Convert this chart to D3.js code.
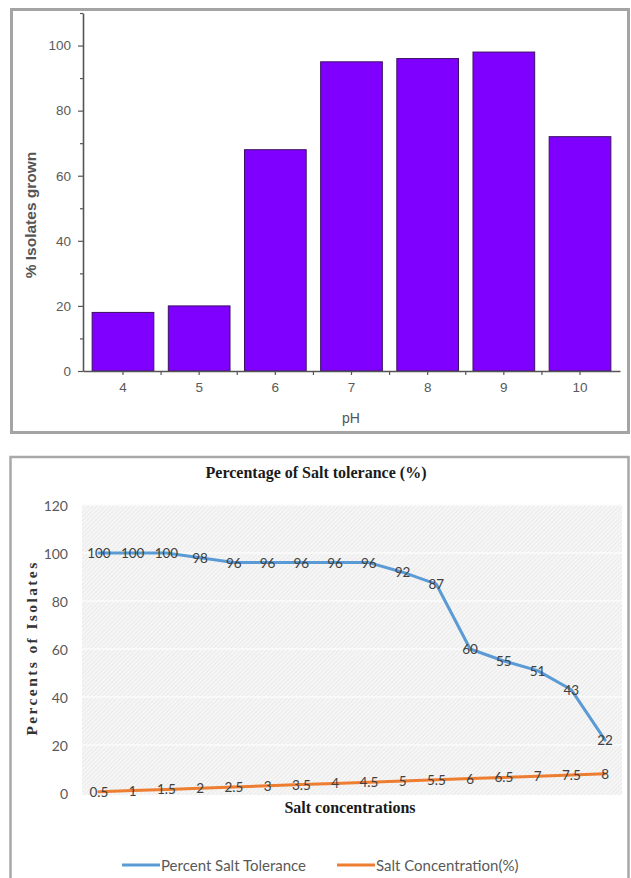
<!DOCTYPE html>
<html>
<head>
<meta charset="utf-8">
<script src="https://cdn.jsdelivr.net/npm/d3@7/dist/d3.min.js"></script>
<style>
  html, body { margin: 0; padding: 0; background: #ffffff; }
  svg { display: block; }
</style>
</head>
<body>
<svg id="chart" width="631" height="878"></svg>
<script>
// ---- pH growth data (bar chart) ----
const phLevels = ["4", "5", "6", "7", "8", "9", "10"];
const isolatesGrown = [18, 20, 68, 95, 96, 98, 72];
const phMajorTicks = [0, 20, 40, 60, 80, 100];
const phMinorTicks = [10, 30, 50, 70, 90, 110];

// ---- salt tolerance data (line chart) ----
const saltLevels = ["0.5", "1", "1.5", "2", "2.5", "3", "3.5", "4", "4.5", "5", "5.5", "6", "6.5", "7", "7.5", "8"];
const percentTolerance = [100, 100, 100, 98, 96, 96, 96, 96, 96, 92, 87, 60, 55, 51, 43, 22];
const saltConcentration = [0.5, 1, 1.5, 2, 2.5, 3, 3.5, 4, 4.5, 5, 5.5, 6, 6.5, 7, 7.5, 8];
const saltYTicks = [0, 20, 40, 60, 80, 100, 120];
const seriesNames = ["Percent Salt Tolerance", "Salt Concentration(%)"];

const svg = d3.select("#chart");
const sans = "'Liberation Sans', Arial, sans-serif";
const calib = "Lato, sans-serif";
const serif = "'Liberation Serif', 'Times New Roman', serif";

// ================= Panel 1: % isolates grown vs pH =================
const phPanel = svg.append("g");
phPanel.append("rect")
  .attr("x", 11.5).attr("y", 9.5).attr("width", 617).attr("height", 423)
  .attr("fill", "#ffffff").attr("stroke", "#a4a4a4").attr("stroke-width", 3);

const xPh = d3.scaleBand().domain(phLevels).range([83, 620])
  .paddingInner(0.19).paddingOuter(0.12);
const yPh = d3.scaleLinear().domain([0, 110]).range([371, 13]);

phPanel.append("g").selectAll("rect").data(isolatesGrown).join("rect")
  .attr("x", (d, i) => xPh(phLevels[i]))
  .attr("y", d => yPh(d))
  .attr("width", xPh.bandwidth())
  .attr("height", d => yPh(0) - yPh(d))
  .attr("fill", "#8000ff")
  .attr("stroke", "#3b1060").attr("stroke-width", 1);

// y axis
phPanel.append("g").attr("transform", "translate(83,0)")
  .call(d3.axisLeft(yPh).tickValues(phMajorTicks).tickSize(5).tickSizeOuter(0).tickPadding(7));
phPanel.append("g").attr("transform", "translate(83,0)")
  .call(d3.axisLeft(yPh).tickValues(phMinorTicks).tickSize(3).tickFormat(""))
  .call(g => g.select(".domain").remove());

// x axis
phPanel.append("g").attr("transform", "translate(0,371)")
  .call(d3.axisBottom(xPh).tickSize(4).tickSizeOuter(0).tickPadding(7));
const boundaries = phLevels.slice(1).map(c => xPh(c) - xPh.step() * xPh.paddingInner() / 2);
phPanel.append("g").selectAll("line").data(boundaries).join("line")
  .attr("x1", d => d).attr("x2", d => d)
  .attr("y1", 371).attr("y2", 375)
  .attr("stroke", "#555555").attr("stroke-width", 1.2);

phPanel.selectAll(".domain").attr("stroke", "#555555").attr("stroke-width", 1.6);
phPanel.selectAll(".tick line").attr("stroke", "#555555").attr("stroke-width", 1.2);
phPanel.selectAll(".tick text")
  .attr("font-family", sans).attr("font-size", 13.5).attr("fill", "#5a5a5a");

phPanel.append("text")
  .attr("transform", "translate(30,215) rotate(-90)")
  .attr("text-anchor", "middle").attr("dominant-baseline", "central")
  .attr("font-family", sans).attr("font-size", 15.5).attr("font-weight", "bold")
  .attr("fill", "#555555")
  .text("% Isolates grown");

phPanel.append("text")
  .attr("x", 351).attr("y", 418)
  .attr("text-anchor", "middle").attr("dominant-baseline", "central")
  .attr("font-family", sans).attr("font-size", 14).attr("fill", "#555555")
  .text("pH");

// ================= Panel 2: salt tolerance =================
const saltPanel = svg.append("g");
saltPanel.append("rect")
  .attr("x", 10.5).attr("y", 457).attr("width", 618).attr("height", 440)
  .attr("fill", "#ffffff").attr("stroke", "#a8a8a8").attr("stroke-width", 2.5);

const defs = svg.append("defs");
const pat = defs.append("pattern").attr("id", "hatch")
  .attr("width", 3).attr("height", 3)
  .attr("patternUnits", "userSpaceOnUse")
  .attr("patternTransform", "rotate(45)");
pat.append("rect").attr("width", 3).attr("height", 3).attr("fill", "#f6f6f6");
pat.append("line").attr("x1", 0).attr("y1", 0).attr("x2", 0).attr("y2", 3)
  .attr("stroke", "#e3e3e3").attr("stroke-width", 1.2);

const xSalt = d3.scalePoint().domain(saltLevels).range([82, 622]).padding(0.5);
const ySalt = d3.scaleLinear().domain([0, 120]).range([793, 505]);

saltPanel.append("rect")
  .attr("x", 82).attr("y", ySalt(120))
  .attr("width", 540).attr("height", ySalt(0) - ySalt(120) + 2)
  .attr("fill", "url(#hatch)");

// horizontal gridlines
saltPanel.append("g").selectAll("line").data(saltYTicks.filter(v => v > 0)).join("line")
  .attr("x1", 82).attr("x2", 622)
  .attr("y1", d => ySalt(d)).attr("y2", d => ySalt(d))
  .attr("stroke", "#fbfbfb").attr("stroke-width", 1.5);

// y tick labels
saltPanel.append("g").selectAll("text").data(saltYTicks).join("text")
  .attr("x", 68).attr("y", d => ySalt(d))
  .attr("text-anchor", "end").attr("dominant-baseline", "central")
  .attr("font-family", calib).attr("font-size", 14).attr("fill", "#595959")
  .text(d => d);

// lines
const line = d3.line()
  .x((d, i) => xSalt(saltLevels[i]))
  .y(d => ySalt(d));

saltPanel.append("path").datum(percentTolerance)
  .attr("d", line).attr("fill", "none")
  .attr("stroke", "#5b9bd5").attr("stroke-width", 3)
  .attr("stroke-linejoin", "round").attr("stroke-linecap", "round");
saltPanel.append("path").datum(saltConcentration)
  .attr("d", line).attr("fill", "none")
  .attr("stroke", "#ed7d31").attr("stroke-width", 3)
  .attr("stroke-linejoin", "round").attr("stroke-linecap", "round");

// data labels centred on the points
function dataLabels(values) {
  saltPanel.append("g").selectAll("text").data(values).join("text")
    .attr("x", (d, i) => xSalt(saltLevels[i]))
    .attr("y", d => ySalt(d))
    .attr("text-anchor", "middle").attr("dominant-baseline", "central")
    .attr("font-family", calib).attr("font-size", 13.5).attr("fill", "#404040")
    .text(d => d);
}
dataLabels(percentTolerance);
dataLabels(saltConcentration);

// titles
saltPanel.append("text")
  .attr("x", 316).attr("y", 472)
  .attr("text-anchor", "middle").attr("dominant-baseline", "central")
  .attr("font-family", serif).attr("font-size", 16).attr("font-weight", "bold")
  .attr("fill", "#1a1a1a")
  .text("Percentage of Salt tolerance (%)");

saltPanel.append("text")
  .attr("x", 350).attr("y", 807)
  .attr("text-anchor", "middle").attr("dominant-baseline", "central")
  .attr("font-family", serif).attr("font-size", 16).attr("font-weight", "bold")
  .attr("fill", "#1a1a1a")
  .text("Salt concentrations");

saltPanel.append("text")
  .attr("transform", "translate(31,648) rotate(-90)")
  .attr("text-anchor", "middle").attr("dominant-baseline", "central")
  .attr("font-family", serif).attr("font-size", 15.5).attr("font-weight", "bold")
  .attr("letter-spacing", 2.4)
  .attr("fill", "#333333")
  .text("Percents of Isolates");

// legend
const legendColors = ["#5b9bd5", "#ed7d31"];
const legendX = [122, 337];
const legend = saltPanel.append("g").selectAll("g").data(seriesNames).join("g")
  .attr("transform", (d, i) => `translate(${legendX[i]},865)`);
legend.append("line")
  .attr("x1", 0).attr("x2", 38).attr("y1", 0).attr("y2", 0)
  .attr("stroke", (d, i) => legendColors[i]).attr("stroke-width", 3);
legend.append("text")
  .attr("x", 39).attr("y", 0).attr("dominant-baseline", "central")
  .attr("font-family", calib).attr("font-size", 15).attr("fill", "#595959")
  .text(d => d);
</script>
</body>
</html>
